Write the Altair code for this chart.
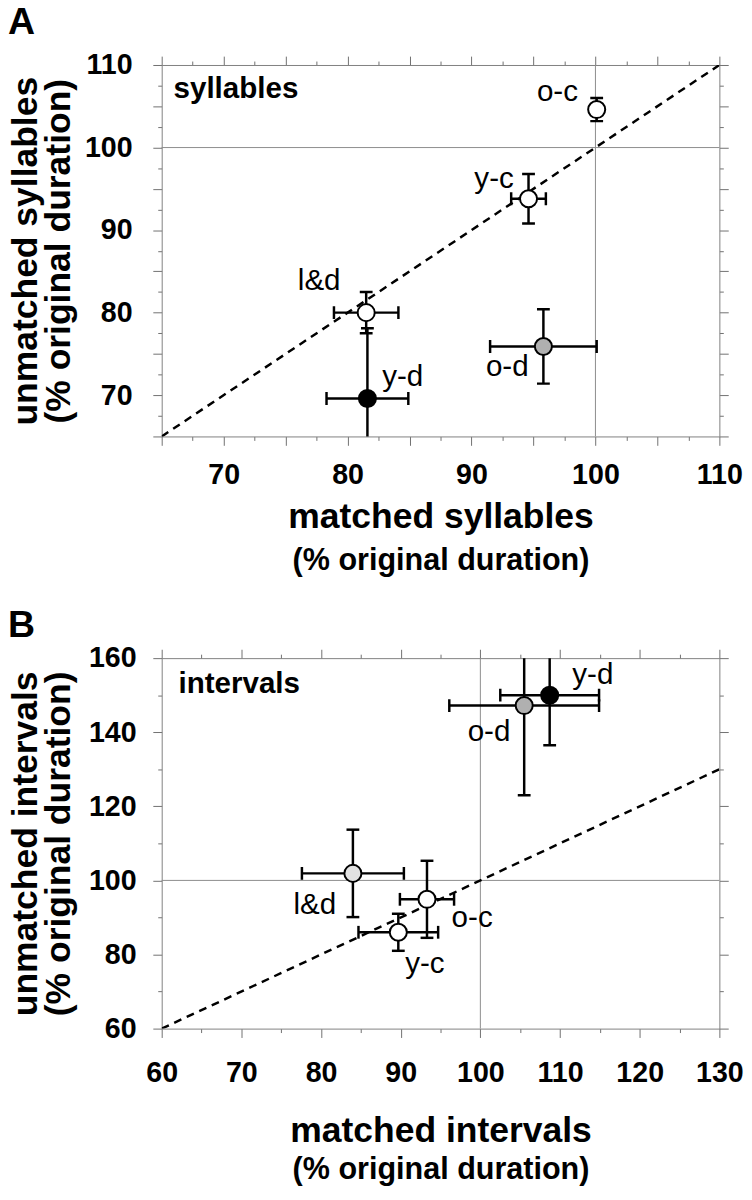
import altair as alt
import pandas as pd
import numpy as np

FONT = "Liberation Sans"

# ---------------- Panel A: syllables ----------------
a_labels = ["o-c", "y-c", "l&d", "y-d", "o-d"]
a_matched = [100.1, 94.6, 81.5, 81.6, 95.8]
a_matched_err = [0.0, 1.4, 2.6, 3.3, 4.3]
a_unmatched = [104.6, 93.8, 80.0, 69.6, 75.9]
a_unmatched_err = [1.4, 3.0, 2.5, 8.5, 4.5]
a_group = ["open", "open", "open", "filled", "hatched"]

# ---------------- Panel B: intervals ----------------
b_labels = ["y-d", "o-d", "l&d", "o-c", "y-c"]
b_matched = [108.7, 105.5, 84.0, 93.3, 89.7]
b_matched_err = [6.2, 9.4, 6.4, 3.4, 5.0]
b_unmatched = [150.0, 147.2, 101.9, 94.9, 86.0]
b_unmatched_err = [13.5, 24.2, 11.8, 10.4, 5.0]
b_group = ["filled", "hatched", "dotted", "open", "open"]

group_domain = ["open", "filled", "hatched", "dotted"]
group_fill = ["white", "black", "#b0b0b0", "#e2e2e2"]

reference_value = [100]


def make_panel(letter, name, labels, xv, xe, yv, ye, grp,
               xdom, ydom, xstep, xlong, xlab, ystep, ylong, ylab,
               xtitle1, ytitle, geo, label_pos, height):
    df = pd.DataFrame({"label": labels, "x": xv, "xe": xe, "y": yv, "ye": ye, "g": grp})
    df["xlo"] = df["x"] - df["xe"]
    df["xhi"] = df["x"] + df["xe"]
    df["ylo"] = df["y"] - df["ye"]
    df["yhi"] = df["y"] + df["ye"]

    xs = alt.Scale(domain=xdom, nice=False, zero=False)
    ys = alt.Scale(domain=ydom, nice=False, zero=False)
    xvals = list(np.arange(xdom[0], xdom[1] + 1e-9, xstep))
    yvals = list(np.arange(ydom[0], ydom[1] + 1e-9, ystep))

    def tsize(long_every):
        return {"condition": {"test": f"datum.value % {long_every} === 0", "value": 9}, "value": 4}

    common = dict(domainColor="#808080", tickColor="#707070", tickWidth=1, grid=False)

    x_main = alt.Axis(values=xvals, orient="bottom", tickSize=tsize(xlong),
                      labelExpr=f"datum.value % {xlab} === 0 ? datum.label : ''",
                      labelFont=FONT, labelFontWeight="bold", labelFontSize=29,
                      labelBaseline="alphabetic", labelPadding=geo["xlabpad"],
                      labelFlush=False, labelOverlap=False,
                      title=xtitle1, titleFont=FONT, titleFontWeight="bold", titleFontSize=36,
                      titleBaseline="alphabetic", titleY=geo["xt1"], **common)
    x_sub = alt.Axis(orient="bottom", labels=False, ticks=False, domain=False, grid=False,
                     title="(% original duration)", titleFont=FONT, titleFontWeight="bold",
                     titleFontSize=31, titleBaseline="alphabetic", titleY=geo["xt2"])
    x_top = alt.Axis(values=xvals, orient="top", tickSize=tsize(xlong), labels=False,
                     title=None, **common)
    y_main = alt.Axis(values=yvals, orient="left", tickSize=tsize(ylong),
                      labelExpr=f"datum.value % {ylab} === 0 ? datum.label : ''",
                      labelFont=FONT, labelFontWeight="bold", labelFontSize=29,
                      labelPadding=geo["ylabpad"], labelOverlap=False, labelFlush=False,
                      title=[ytitle, "(% original duration)"], titleFont=FONT,
                      titleFontWeight="bold", titleFontSize=36, titleLineHeight=33,
                      titleBaseline="alphabetic", titleX=-127, titleAngle=270, **common)
    y_right = alt.Axis(values=yvals, orient="right", tickSize=tsize(ylong), labels=False,
                       title=None, **common)

    ref = pd.DataFrame({"v": reference_value})
    vline = alt.Chart(ref).mark_rule(color="#8c8c8c", strokeWidth=1).encode(
        x=alt.X("v:Q", scale=xs, axis=x_main))
    hline = alt.Chart(ref).mark_rule(color="#8c8c8c", strokeWidth=1).encode(
        y=alt.Y("v:Q", scale=ys, axis=y_main))
    diag = alt.Chart(pd.DataFrame({"d": xdom})).mark_line(
        color="black", strokeWidth=2.5, strokeDash=[8, 6], clip=True).encode(
        x=alt.X("d:Q", scale=xs, axis=x_top), y=alt.Y("d:Q", scale=ys, axis=y_right))

    base = alt.Chart(df)
    bar = dict(color="black", strokeWidth=2.5, clip=True, opacity=1)
    xerr = base.transform_filter("datum.xe > 0").mark_rule(**bar).encode(
        x=alt.X("xlo:Q", scale=xs, axis=x_sub), x2="xhi:Q",
        y=alt.Y("y:Q", scale=ys, axis=None))
    cap = dict(color="black", thickness=2.5, size=13, clip=True, opacity=1)
    xcap_lo = base.transform_filter("datum.xe > 0").mark_tick(orient="vertical", **cap).encode(
        x=alt.X("xlo:Q", scale=xs, axis=None), y=alt.Y("y:Q", scale=ys, axis=None))
    xcap_hi = base.transform_filter("datum.xe > 0").mark_tick(orient="vertical", **cap).encode(
        x=alt.X("xhi:Q", scale=xs, axis=None), y=alt.Y("y:Q", scale=ys, axis=None))
    yerr = base.mark_rule(**bar).encode(
        x=alt.X("x:Q", scale=xs, axis=None),
        y=alt.Y("ylo:Q", scale=ys, axis=None), y2="yhi:Q")
    ycap_lo = base.mark_tick(orient="horizontal", **cap).encode(
        x=alt.X("x:Q", scale=xs, axis=None), y=alt.Y("ylo:Q", scale=ys, axis=None))
    ycap_hi = base.mark_tick(orient="horizontal", **cap).encode(
        x=alt.X("x:Q", scale=xs, axis=None), y=alt.Y("yhi:Q", scale=ys, axis=None))
    pts = base.mark_point(shape="circle", filled=True, size=300, stroke="black",
                          strokeWidth=2, opacity=1).encode(
        x=alt.X("x:Q", scale=xs, axis=None), y=alt.Y("y:Q", scale=ys, axis=None),
        fill=alt.Fill("g:N", scale=alt.Scale(domain=group_domain, range=group_fill), legend=None))

    texts = []
    for lab in labels:
        align, dx, dy = label_pos[lab]
        texts.append(
            base.transform_filter(alt.datum.label == lab).mark_text(
                font=FONT, fontSize=30, align=align, baseline="middle", dx=dx, dy=dy,
                color="black").encode(
                x=alt.X("x:Q", scale=xs, axis=None), y=alt.Y("y:Q", scale=ys, axis=None),
                text="label:N"))

    name_df = pd.DataFrame({"x": [xdom[0]], "y": [ydom[1]], "t": [name]})
    name_txt = alt.Chart(name_df).mark_text(
        font=FONT, fontSize=30, fontWeight="bold", align="left", baseline="alphabetic",
        dx=geo["ndx"], dy=geo["ndy"], color="black").encode(
        x=alt.X("x:Q", scale=xs, axis=None), y=alt.Y("y:Q", scale=ys, axis=None), text="t:N")

    layers = [vline, hline, diag, xerr, xcap_lo, xcap_hi, yerr, ycap_lo, ycap_hi, pts] + texts + [name_txt]
    ch = alt.layer(*layers).resolve_axis(x="independent", y="independent").properties(
        width=566, height=height,
        title=alt.TitleParams(letter, anchor="start", frame="bounds", font=FONT,
                              fontSize=38, fontWeight="bold", baseline="alphabetic",
                              offset=geo["toff"], color="black"))
    return ch


pos_a = {"o-c": ("right", -19, -18), "y-c": ("right", -15, -20), "l&d": ("right", -26, -32),
         "y-d": ("left", 15, -22), "o-d": ("right", -15, 21)}
pos_b = {"y-d": ("left", 23, -20), "o-d": ("right", -14, 27), "l&d": ("right", -17, 32),
         "o-c": ("left", 25, 19), "y-c": ("left", 7, 32)}

geo_a = dict(xlabpad=39, xt1=92, xt2=135, ylabpad=21, ndx=12, ndy=33, toff=-21)
geo_b = dict(xlabpad=45, xt1=115, xt2=152, ylabpad=17, ndx=17, ndy=35, toff=-31)

chart_a = make_panel("A", "syllables", a_labels, a_matched, a_matched_err, a_unmatched,
                     a_unmatched_err, a_group, [65, 110], [65, 110], 2.5, 5, 10, 2.5, 5, 10,
                     "matched syllables", "unmatched syllables", geo_a, pos_a, 377)
chart_b = make_panel("B", "intervals", b_labels, b_matched, b_matched_err, b_unmatched,
                     b_unmatched_err, b_group, [60, 130], [60, 160], 5, 10, 10, 10, 20, 20,
                     "matched intervals", "unmatched intervals", geo_b, pos_b, 376)

chart = alt.vconcat(chart_a, chart_b, spacing=225, bounds="flush").properties(
    padding={"top": -12, "left": 0, "right": 0, "bottom": 0},
    background="white").configure_view(stroke=None)

chart.save("out.html", embed_options={"renderer": "svg", "actions": False})
